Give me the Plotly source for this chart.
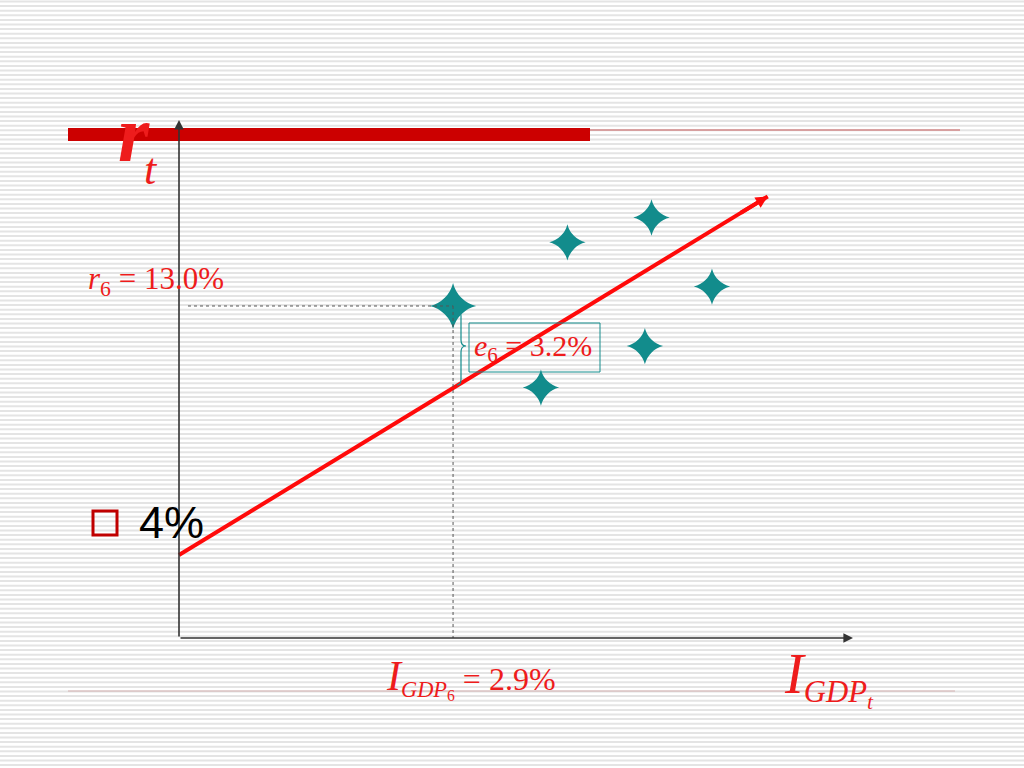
import plotly.graph_objects as go

# ---- data ----
star_I = [2.9, 4.11, 5.0, 5.64, 4.93, 3.83]      # I_GDP, %
star_r = [13.0, 15.3, 16.2, 13.7, 11.55, 10.05]  # r, %
intercept = 4.0
slope = 2.08
line_I = [0.0, 6.23]
r6 = 13.0
I6 = 2.9
e6 = 3.2

W, H = 1024, 768
# pixel mapping of data axes
PX0, PXS = 179.0, 94.5   # px = PX0 + PXS*I
PY0, PYS = 665.7, 27.67  # py = PY0 - PYS*r
xr = [(0 - PX0) / PXS, (W - PX0) / PXS]
yr = [(PY0 - H) / PYS, (PY0 - 0) / PYS]

def I_of(p):
    return (p - PX0) / PXS

def r_of(p):
    return (PY0 - p) / PYS

def px(x):
    return x / W

def py(y):
    return 1 - y / H

RED = "#ee1c1c"
TEAL = "#128c8c"

fig = go.Figure()

line_r = [intercept + slope * i for i in line_I]
fig.add_trace(go.Scatter(x=line_I, y=line_r, mode="lines",
                         line=dict(color="#ff0a0a", width=4), hoverinfo="skip"))

sizes = [33] + [26] * (len(star_I) - 1)
fig.add_trace(go.Scatter(x=star_I, y=star_r, mode="markers",
                         marker=dict(symbol="star-diamond", size=sizes, color=TEAL, opacity=1,
                                     line=dict(width=0)), hoverinfo="skip"))

shapes = []
# striped background
y = 1.5
while y < H:
    shapes.append(dict(type="line", xref="paper", yref="paper", x0=0, x1=1,
                       y0=py(y), y1=py(y), line=dict(color="#e4e4e4", width=2), layer="below"))
    y += 4.6

# title bars
shapes.append(dict(type="rect", xref="paper", yref="paper", x0=px(68), x1=px(590),
                   y0=py(141), y1=py(128), fillcolor="#cc0000", line=dict(width=0), layer="below"))
shapes.append(dict(type="line", xref="paper", yref="paper", x0=px(590), x1=px(960),
                   y0=py(130), y1=py(130), line=dict(color="#c85a5a", width=1.2)))
shapes.append(dict(type="line", xref="paper", yref="paper", x0=px(68), x1=px(955),
                   y0=py(691), y1=py(691), line=dict(color="#d4b0b0", width=1)))

# dotted guide lines
shapes.append(dict(type="line", xref="x", yref="y", x0=I_of(188), x1=I6, y0=r6, y1=r6,
                   line=dict(color="#555555", width=1, dash="dot")))
shapes.append(dict(type="line", xref="x", yref="y", x0=I6, x1=I6, y0=r6, y1=r_of(638),
                   line=dict(color="#555555", width=1, dash="dot")))

# brace
bx0, bx1, by0, by1, bm = 457, 466, 310, 385, 346
path = (f"M {px(bx0)} {py(by0)} Q {px(bx0+4)} {py(by0)} {px(bx0+4)} {py(by0+6)} "
        f"L {px(bx0+4)} {py(bm-6)} Q {px(bx0+4)} {py(bm)} {px(bx1)} {py(bm)} "
        f"Q {px(bx0+4)} {py(bm)} {px(bx0+4)} {py(bm+6)} "
        f"L {px(bx0+4)} {py(by1-6)} Q {px(bx0+4)} {py(by1)} {px(bx0)} {py(by1)}")
shapes.append(dict(type="path", xref="paper", yref="paper", path=path,
                   line=dict(color=TEAL, width=1.2)))

# e6 box
shapes.append(dict(type="rect", xref="paper", yref="paper", x0=px(469), x1=px(600),
                   y0=py(372), y1=py(323), line=dict(color=TEAL, width=1)))

# bullet square
shapes.append(dict(type="rect", xref="paper", yref="paper", x0=px(93), x1=px(117),
                   y0=py(535), y1=py(511), line=dict(color="#c00000", width=3)))

ann = []
# axes with arrows
ann.append(dict(x=I_of(853), y=r_of(638), ax=I_of(179), ay=r_of(638), xref="x", yref="y",
                axref="x", ayref="y", showarrow=True, arrowhead=2, arrowsize=1.2,
                arrowwidth=1.6, arrowcolor="#333333", text=""))
ann.append(dict(x=I_of(179), y=r_of(120), ax=I_of(179), ay=r_of(638), xref="x", yref="y",
                axref="x", ayref="y", showarrow=True, arrowhead=2, arrowsize=1.2,
                arrowwidth=1.6, arrowcolor="#333333", text=""))
# regression arrow head
ann.append(dict(x=line_I[1], y=line_r[1], ax=line_I[1] - 0.3, ay=line_r[1] - 0.3 * slope,
                xref="x", yref="y", axref="x", ayref="y", showarrow=True, arrowhead=2,
                arrowsize=0.6, arrowwidth=4, arrowcolor="#ff0a0a", text=""))

def txt(x, y, s, size, color=RED, family="Liberation Serif", xanchor="left", yanchor="middle"):
    ann.append(dict(x=px(x), y=py(y), xref="paper", yref="paper", text=s, showarrow=False,
                    font=dict(family=family, size=size, color=color),
                    xanchor=xanchor, yanchor=yanchor))

txt(116, 134, "<b><i>r</i></b>", 80)
txt(142, 170, "<i>t</i>", 44)
txt(86, 281, "<i>r</i><sub>6</sub> = 13.0%", 31)
txt(472, 348, "<i>e</i><sub>6</sub> = 3.2%", 30)
txt(137, 522, "4%", 45, color="#000000", family="Liberation Sans")
txt(384, 678, "<span style='font-size:42px'><i>I</i></span><sub><i>GDP</i><sub>6</sub></sub> = 2.9%", 32)
txt(782, 678, "<span style='font-size:56px'><i>I</i></span><sub><i>GDP<sub>t</sub></i></sub>", 44)

fig.update_layout(
    width=W, height=H, margin=dict(l=0, r=0, t=0, b=0),
    paper_bgcolor="white", plot_bgcolor="rgba(0,0,0,0)", showlegend=False,
    xaxis=dict(range=xr, visible=False, fixedrange=True),
    yaxis=dict(range=yr, visible=False, fixedrange=True),
    shapes=shapes, annotations=ann,
)
fig.write_html("out.html", config={"displayModeBar": False},
               post_script="document.body.style.margin='0px';")
